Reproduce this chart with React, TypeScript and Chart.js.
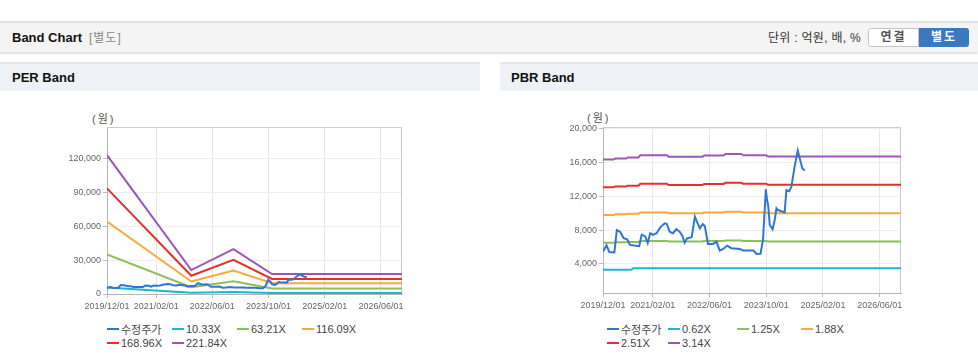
import React, { useEffect, useRef } from 'react';
import { Chart, registerables } from 'chart.js';

Chart.register(...registerables);

const FONT = '"Liberation Sans", Arial, "Noto Sans CJK KR", sans-serif';
Chart.defaults.font.family = FONT;

// x axis: months since 2019/12
const xTickMonths = [0, 14, 30, 46, 62, 78];
const xTickLabels = ['2019/12/01', '2021/02/01', '2022/06/01', '2023/10/01', '2025/02/01', '2026/06/01'];
const xMaxMonth = 84;

// 수정주가 (adjusted price)
const priceMonths = [0, 1.0, 1.8, 3.2, 3.9, 4.8, 5.8, 6.8, 7.6, 9.8, 10.2, 10.9, 11.9, 12.6, 13.3, 14.1, 15.1, 16.2, 17.4, 18.0, 18.8, 19.7, 20.7, 21.6, 22.4, 23.0, 23.7, 25.0, 25.9, 26.6, 27.3, 28.1, 28.7, 29.6, 31.0, 32.0, 32.9, 33.9, 35.0, 36.2, 38.6, 39.5, 42.4, 43.3, 44.4, 45.1, 45.9, 46.2, 46.6, 47.0, 47.8, 48.4, 48.9, 49.3, 51.2, 51.7, 52.5, 53.1, 54.0, 54.9, 55.5, 56.2, 56.9];
const priceValues = [5450, 6200, 5400, 5350, 8000, 7800, 7050, 6900, 6240, 6120, 6100, 7450, 7250, 6450, 7620, 7420, 7620, 8350, 8800, 8720, 7810, 7620, 8100, 7810, 7300, 6500, 7030, 7150, 9590, 8880, 8210, 8720, 8480, 6360, 6360, 6640, 5570, 5770, 6160, 5850, 5770, 5570, 5570, 5180, 5200, 6830, 12810, 11750, 10760, 8600, 8100, 9190, 10570, 10370, 10100, 12730, 12600, 13120, 15480, 17400, 16400, 15290, 15050];

// PER bands
const perBandMonths = [0, 24, 36, 47, 84];
const per1033 = [5700, 1000, 1850, 880, 880];
const per6321 = [35000, 6000, 11300, 4900, 4900];
const per11609 = [64300, 11100, 20800, 9500, 9500];
const per16896 = [93600, 16200, 30200, 13300, 13300];
const per22184 = [123000, 21200, 39700, 17700, 17700];
const perTicks = [0, 30000, 60000, 90000, 120000];

// PBR bands
const pbrCyanMonths = [0, 8, 8.5, 84];
const pbr062 = [3300, 3300, 3480, 3480];
const pbrBandMonths = [0, 3, 3.5, 6.5, 7, 10, 10.5, 18, 18.5, 28, 28.5, 34, 34.5, 39, 39.5, 46, 46.5, 84];
const pbr125 = [6510, 6510, 6560, 6560, 6600, 6600, 6710, 6710, 6640, 6640, 6700, 6700, 6770, 6770, 6710, 6710, 6650, 6650];
const pbr188 = [9790, 9790, 9860, 9860, 9930, 9930, 10090, 10090, 9990, 9990, 10070, 10070, 10180, 10180, 10090, 10090, 10000, 10000];
const pbr251 = [13070, 13070, 13170, 13170, 13260, 13260, 13480, 13480, 13330, 13330, 13450, 13450, 13590, 13590, 13480, 13480, 13350, 13350];
const pbr314 = [16350, 16350, 16470, 16470, 16590, 16590, 16860, 16860, 16680, 16680, 16820, 16820, 17000, 17000, 16860, 16860, 16700, 16700];
const pbrTicks = [4000, 8000, 12000, 16000, 20000];

const COLORS = {
  price: '#2f76d2',
  cyan: '#1bb8cc',
  green: '#8dbf55',
  orange: '#f7a93c',
  red: '#e2312b',
  purple: '#9b57b4',
};

const perLabels = ['수정주가', '10.33X', '63.21X', '116.09X', '168.96X', '221.84X'];
const pbrLabels = ['수정주가', '0.62X', '1.25X', '1.88X', '2.51X', '3.14X'];
const seriesColors = [COLORS.price, COLORS.cyan, COLORS.green, COLORS.orange, COLORS.red, COLORS.purple];

const pts = (xs: number[], ys: number[]) => xs.map((x, i) => ({ x, y: ys[i] }));

const frame = {
  id: 'frame',
  beforeDatasetsDraw(chart: any) {
    const { ctx, chartArea: a } = chart;
    ctx.save();
    ctx.strokeStyle = '#cccccc';
    ctx.lineWidth = 1;
    ctx.beginPath();
    ctx.moveTo(a.left, a.top + 0.5);
    ctx.lineTo(a.right - 0.5, a.top + 0.5);
    ctx.lineTo(a.right - 0.5, a.bottom);
    ctx.stroke();
    ctx.restore();
  },
  afterDraw(chart: any) {
    const { ctx, chartArea: a } = chart;
    const xs = chart.scales.x;
    ctx.save();
    ctx.fillStyle = '#666';
    ctx.font = '9px ' + FONT;
    ctx.textAlign = 'center';
    ctx.textBaseline = 'top';
    xTickMonths.forEach((m, i) => {
      ctx.fillText(xTickLabels[i], xs.getPixelForValue(m), a.bottom + 8);
    });
    ctx.restore();
  },
};

type ChartProps = {
  data: { x: number; y: number }[][];
  labels: string[];
  yTicks: number[];
  yMin: number;
  yMax: number;
  width: number;
  height: number;
  yAxisWidth: number;
  padRight: number;
  padTop: number;
  xAxisHeight: number;
};

function BandCanvas(p: ChartProps) {
  const ref = useRef<HTMLCanvasElement>(null);
  useEffect(() => {
    if (!ref.current) return;
    const chart = new Chart(ref.current, {
      type: 'line',
      data: {
        datasets: p.data.map((d, i) => ({
          label: p.labels[i],
          data: d,
          borderColor: seriesColors[i],
          backgroundColor: seriesColors[i],
          borderWidth: 2,
          pointRadius: 0,
          tension: 0,
          fill: false,
        })),
      },
      options: {
        animation: false,
        responsive: false,
        maintainAspectRatio: false,
        events: [],
        layout: { padding: { left: 0, right: p.padRight, top: p.padTop, bottom: 0 } },
        plugins: { legend: { display: false }, tooltip: { enabled: false } },
        scales: {
          x: {
            type: 'linear',
            min: 0,
            max: xMaxMonth,
            afterBuildTicks: (s: any) => {
              s.ticks = xTickMonths.map((v) => ({ value: v }));
            },
            afterFit: (s: any) => {
              s.height = p.xAxisHeight;
            },
            ticks: {
              display: false,
              autoSkip: false,
            },
            grid: { color: '#e6e6e6', tickLength: 4, tickColor: '#bbb' },
            border: { color: '#b5b5b5' },
          },
          y: {
            type: 'linear',
            min: p.yMin,
            max: p.yMax,
            afterBuildTicks: (s: any) => {
              s.ticks = p.yTicks.map((v) => ({ value: v }));
            },
            afterFit: (s: any) => {
              s.width = p.yAxisWidth;
            },
            ticks: {
              padding: 2,
              color: '#666',
              font: { size: 9 },
              callback: (v: any) => Number(v).toLocaleString('en-US'),
            },
            grid: { color: '#eeeeee', tickLength: 4, tickColor: '#bbb' },
            border: { color: '#b5b5b5' },
          },
        },
      },
      plugins: [frame],
    } as any);
    return () => chart.destroy();
  }, []);
  return (
    <canvas
      ref={ref}
      width={p.width}
      height={p.height}
      style={{ width: p.width, height: p.height, display: 'block' }}
    />
  );
}

function Legend({ labels, xs, top }: { labels: string[]; xs: number[]; top: number }) {
  return (
    <>
      {labels.map((l, i) => {
        const row = i < 4 ? 0 : 1;
        return (
          <div
            key={l}
            style={{
              position: 'absolute',
              left: xs[i],
              top: top + row * 13.5,
              height: 14,
              display: 'flex',
              alignItems: 'center',
              whiteSpace: 'nowrap',
              fontSize: 11,
              color: '#444',
              fontFamily: FONT,
            }}
          >
            <span style={{ display: 'inline-block', width: 12, height: 2, background: seriesColors[i], marginRight: 2 }} />
            <span>{l}</span>
          </div>
        );
      })}
    </>
  );
}

export default function App() {
  useEffect(() => {
    document.body.style.margin = '0';
  }, []);

  const perData = [
    pts(priceMonths, priceValues),
    pts(perBandMonths, per1033),
    pts(perBandMonths, per6321),
    pts(perBandMonths, per11609),
    pts(perBandMonths, per16896),
    pts(perBandMonths, per22184),
  ];
  const pbrData = [
    pts(priceMonths, priceValues),
    pts(pbrCyanMonths, pbr062),
    pts(pbrBandMonths, pbr125),
    pts(pbrBandMonths, pbr188),
    pts(pbrBandMonths, pbr251),
    pts(pbrBandMonths, pbr314),
  ];

  const sectionHeader: React.CSSProperties = {
    position: 'absolute',
    top: 62,
    height: 27,
    background: '#eef1f5',
    borderTop: '2px solid #e4e6ea',
    fontFamily: FONT,
    fontWeight: 'bold',
    fontSize: 13,
    color: '#111',
    lineHeight: '27px',
  };

  return (
    <div style={{ position: 'relative', width: 978, height: 361, overflow: 'hidden', background: '#fff', fontFamily: FONT }}>
      {/* top header */}
      <div
        style={{
          position: 'absolute',
          left: 0,
          top: 21,
          width: 978,
          height: 29,
          background: '#f4f4f4',
          borderTop: '2px solid #e2e2e2',
          boxShadow: '0 2px 2px rgba(0,0,0,0.13)',
        }}
      />
      <div style={{ position: 'absolute', left: 12, top: 30, fontSize: 13, fontWeight: 'bold', color: '#111', lineHeight: '16px' }}>
        Band Chart
      </div>
      <div style={{ position: 'absolute', left: 89, top: 30, fontSize: 12, color: '#888', lineHeight: '16px', letterSpacing: 1 }}>
        [별도]
      </div>
      <div style={{ position: 'absolute', right: 978 - 861, top: 30, fontSize: 12, color: '#333', lineHeight: '16px', whiteSpace: 'nowrap', letterSpacing: 0.3 }}>
        단위 : 억원, 배, %
      </div>
      <div
        style={{
          position: 'absolute',
          left: 868,
          top: 28,
          width: 49,
          height: 17,
          background: '#fff',
          border: '1px solid #c4c4c4',
          borderRadius: '3px 0 0 3px',
          fontSize: 12,
          fontWeight: 'bold',
          color: '#555',
          textAlign: 'center',
          lineHeight: '17px',
          letterSpacing: 2,
        }}
      >
        연결
      </div>
      <div
        style={{
          position: 'absolute',
          left: 919,
          top: 28,
          width: 50,
          height: 19,
          background: '#3a79bf',
          borderRadius: '0 3px 3px 0',
          fontSize: 12,
          fontWeight: 'bold',
          color: '#fff',
          textAlign: 'center',
          lineHeight: '19px',
          letterSpacing: 2,
        }}
      >
        별도
      </div>

      {/* section headers */}
      <div style={{ ...sectionHeader, left: 0, width: 480 }}>
        <span style={{ marginLeft: 12 }}>PER Band</span>
      </div>
      <div style={{ ...sectionHeader, left: 500, width: 478 }}>
        <span style={{ marginLeft: 11 }}>PBR Band</span>
      </div>

      {/* unit labels */}
      <div style={{ position: 'absolute', left: 92, top: 110, fontSize: 11, color: '#555', letterSpacing: 2 }}>(원)</div>
      <div style={{ position: 'absolute', left: 587, top: 109, fontSize: 11, color: '#555', letterSpacing: 2 }}>(원)</div>

      {/* charts */}
      <div style={{ position: 'absolute', left: 0, top: 100 }}>
        <BandCanvas
          data={perData}
          labels={perLabels}
          yTicks={perTicks}
          yMin={0}
          yMax={148000}
          width={480}
          height={215}
          yAxisWidth={107}
          padRight={78}
          padTop={27}
          xAxisHeight={21}
        />
      </div>
      <div style={{ position: 'absolute', left: 500, top: 100 }}>
        <BandCanvas
          data={pbrData}
          labels={pbrLabels}
          yTicks={pbrTicks}
          yMin={550}
          yMax={20200}
          width={478}
          height={215}
          yAxisWidth={103}
          padRight={77}
          padTop={27}
          xAxisHeight={22}
        />
      </div>

      {/* legends */}
      <Legend labels={perLabels} xs={[107, 172, 237, 302, 107, 172]} top={322} />
      <Legend labels={pbrLabels} xs={[607, 668, 737, 801, 607, 668]} top={322} />
    </div>
  );
}
